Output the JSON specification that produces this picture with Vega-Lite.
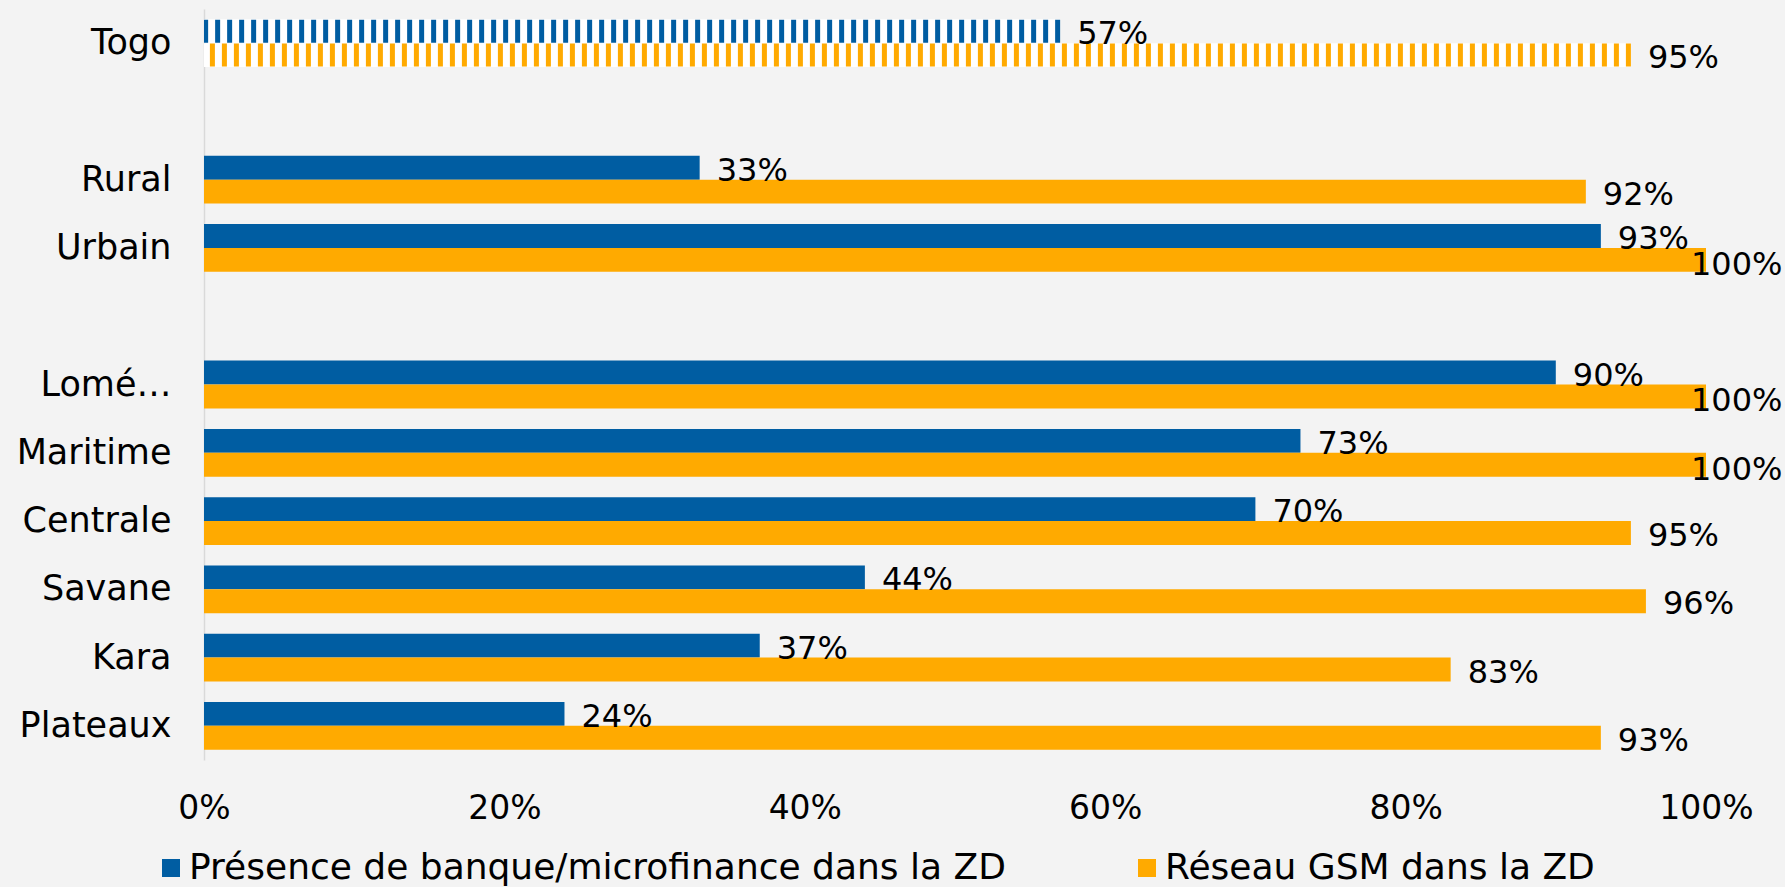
{
  "$schema": "https://vega.github.io/schema/vega-lite/v6.json",
  "width": 1502,
  "height": 751,
  "autosize": {"type": "none"},
  "padding": {"left": 204, "top": 9, "right": 79, "bottom": 127},
  "background": "#f3f3f3",
  "config": {"view": {"stroke": null}, "font": "DejaVu Sans"},
  "data": {
    "values": [
      {"region": "Togo", "serie": "Présence de banque/microfinance dans la ZD", "value": 0.57},
      {"region": "Togo", "serie": "Réseau GSM dans la ZD", "value": 0.95},
      {"region": "Rural", "serie": "Présence de banque/microfinance dans la ZD", "value": 0.33},
      {"region": "Rural", "serie": "Réseau GSM dans la ZD", "value": 0.92},
      {"region": "Urbain", "serie": "Présence de banque/microfinance dans la ZD", "value": 0.93},
      {"region": "Urbain", "serie": "Réseau GSM dans la ZD", "value": 1.0},
      {"region": "Lomé…", "serie": "Présence de banque/microfinance dans la ZD", "value": 0.90},
      {"region": "Lomé…", "serie": "Réseau GSM dans la ZD", "value": 1.0},
      {"region": "Maritime", "serie": "Présence de banque/microfinance dans la ZD", "value": 0.73},
      {"region": "Maritime", "serie": "Réseau GSM dans la ZD", "value": 1.0},
      {"region": "Centrale", "serie": "Présence de banque/microfinance dans la ZD", "value": 0.70},
      {"region": "Centrale", "serie": "Réseau GSM dans la ZD", "value": 0.95},
      {"region": "Savane", "serie": "Présence de banque/microfinance dans la ZD", "value": 0.44},
      {"region": "Savane", "serie": "Réseau GSM dans la ZD", "value": 0.96},
      {"region": "Kara", "serie": "Présence de banque/microfinance dans la ZD", "value": 0.37},
      {"region": "Kara", "serie": "Réseau GSM dans la ZD", "value": 0.83},
      {"region": "Plateaux", "serie": "Présence de banque/microfinance dans la ZD", "value": 0.24},
      {"region": "Plateaux", "serie": "Réseau GSM dans la ZD", "value": 0.93}
    ]
  },
  "encoding": {
    "y": {
      "field": "region",
      "type": "nominal",
      "scale": {
        "domain": ["Togo", "gap1", "Rural", "Urbain", "gap2", "Lomé…", "Maritime", "Centrale", "Savane", "Kara", "Plateaux"],
        "paddingInner": 0.3,
        "paddingOuter": 0.15
      },
      "axis": {
        "title": null,
        "ticks": false,
        "domain": true,
        "domainColor": "#d9d9d9",
        "domainWidth": 1.5,
        "labelFontSize": 35,
        "labelColor": "#000000",
        "labelPadding": 33,
        "labelLimit": 300,
        "labelExpr": "indexof(datum.value, 'gap') === 0 ? '' : datum.value"
      }
    },
    "yOffset": {
      "field": "serie",
      "type": "nominal",
      "scale": {"domain": ["Présence de banque/microfinance dans la ZD", "Réseau GSM dans la ZD"], "paddingInner": 0, "paddingOuter": 0}
    }
  },
  "layer": [
    {
      "transform": [{"filter": "datum.region !== 'Togo'"}],
      "mark": {"type": "bar"},
      "encoding": {
        "x": {
          "field": "value",
          "type": "quantitative",
          "scale": {"domain": [0, 1], "nice": false},
          "axis": {
            "title": null,
            "format": ".0%",
            "values": [0, 0.2, 0.4, 0.6, 0.8, 1],
            "grid": false,
            "ticks": false,
            "domain": false,
            "labelFlush": false,
            "labelFontSize": 33,
            "labelColor": "#000000",
            "labelPadding": 32
          }
        },
        "color": {
          "field": "serie",
          "type": "nominal",
          "scale": {"domain": ["Présence de banque/microfinance dans la ZD", "Réseau GSM dans la ZD"], "range": ["#005DA2", "#FFAA00"]},
          "legend": {
            "title": null,
            "orient": "none",
            "legendX": -51,
            "legendY": 841,
            "direction": "horizontal",
            "symbolType": "square",
            "symbolSize": 324,
            "symbolStrokeWidth": 0,
            "labelFontSize": 36,
            "labelColor": "#000000",
            "labelOffset": 0,
            "labelLimit": 1000,
            "columnPadding": 123
          }
        }
      }
    },
    {
      "transform": [{"filter": "datum.region === 'Togo'"}],
      "mark": {"type": "bar", "color": "#ffffff"},
      "encoding": {"x": {"field": "value", "type": "quantitative"}}
    },
    {
      "transform": [{"filter": "datum.region === 'Togo' && datum.serie === 'Présence de banque/microfinance dans la ZD'"}],
      "mark": {"type": "rule", "color": "#005DA2", "strokeWidth": 23, "strokeDash": [5, 7], "strokeCap": "butt"},
      "encoding": {
        "x": {"field": "value", "type": "quantitative"},
        "x2": {"datum": 0}
      }
    },
    {
      "transform": [{"filter": "datum.region === 'Togo' && datum.serie === 'Réseau GSM dans la ZD'"}],
      "mark": {"type": "rule", "color": "#FFAA00", "strokeWidth": 23, "strokeDash": [5, 7], "strokeCap": "butt"},
      "encoding": {
        "x": {"field": "value", "type": "quantitative"},
        "x2": {"datum": 0}
      }
    },
    {
      "transform": [{"filter": "datum.value < 1"}],
      "mark": {"type": "text", "align": "left", "baseline": "middle", "dx": 17, "dy": 3, "fontSize": 32, "color": "#000000"},
      "encoding": {
        "x": {"field": "value", "type": "quantitative"},
        "text": {"field": "value", "type": "quantitative", "format": ".0%"}
      }
    },
    {
      "transform": [{"filter": "datum.value >= 1"}],
      "mark": {"type": "text", "align": "left", "baseline": "middle", "dx": -15, "dy": 5, "fontSize": 32, "color": "#000000"},
      "encoding": {
        "x": {"field": "value", "type": "quantitative"},
        "text": {"field": "value", "type": "quantitative", "format": ".0%"}
      }
    }
  ]
}
